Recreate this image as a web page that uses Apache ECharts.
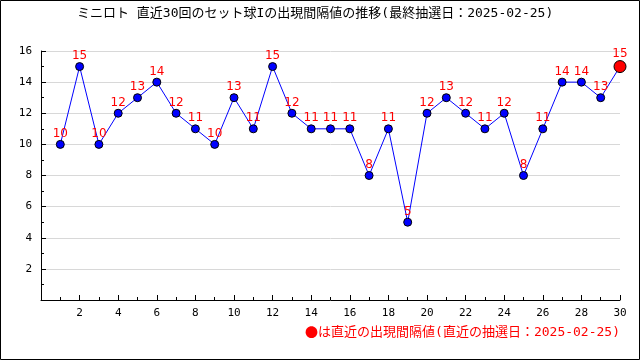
<!DOCTYPE html>
<html><head><meta charset="utf-8">
<script src="https://cdn.jsdelivr.net/npm/echarts@6/dist/echarts.min.js"></script>
<style>html,body{margin:0;padding:0;background:#fff}#c{width:640px;height:360px}</style>
</head><body><div id="c"></div>
<script>
const titleText = 'ミニロト 直近30回のセット球Iの出現間隔値の推移(最終抽選日：2025-02-25)';
const legendMark = '●';
const legendText = 'は直近の出現間隔値(直近の抽選日：2025-02-25)';
const draws = [1,2,3,4,5,6,7,8,9,10,11,12,13,14,15,16,17,18,19,20,21,22,23,24,25,26,27,28,29,30];
const intervals = [10,15,10,12,13,14,12,11,10,13,11,15,12,11,11,11,8,11,5,12,13,12,11,12,8,11,14,14,13,15];

const chart = echarts.init(document.getElementById('c'), null, {renderer:'canvas'});
const mono = 'DejaVu Sans Mono';
const jpMono = '"DejaVu Sans Mono","Noto Sans CJK JP"';
const data = draws.map((d,i)=>{
  const p = {value:[d, intervals[i]]};
  if (i === draws.length-1) {
    p.symbolSize = 12;
    p.itemStyle = {color:'#ff0000', borderColor:'#000', borderWidth:1};
  }
  return p;
});
chart.setOption({
  animation:false,
  title:{text:titleText, left:72, top:2,
    textStyle:{fontFamily:jpMono, fontSize:13, fontWeight:'normal', color:'#000'}},
  grid:{left:41, right:20, top:51, bottom:60},
  xAxis:{type:'value', min:0, max:30, interval:2,
    axisLine:{lineStyle:{color:'#000', width:1}},
    axisTick:{show:true, inside:true, length:5, lineStyle:{color:'#000'}},
    minorTick:{show:true, splitNumber:2, length:3, lineStyle:{color:'#000'}},
    splitLine:{show:false},
    axisLabel:{fontFamily:mono, fontSize:11, color:'#000', margin:8,
      formatter:v=> v===0?'':String(v)}},
  yAxis:{type:'value', min:0, max:16, interval:2,
    axisLine:{show:true, lineStyle:{color:'#000', width:1}},
    axisTick:{show:true, inside:true, length:5, lineStyle:{color:'#000'}},
    minorTick:{show:true, splitNumber:2, length:3, lineStyle:{color:'#000'}},
    splitLine:{show:true, lineStyle:{color:'#d8d8d8', width:1}},
    axisLabel:{fontFamily:mono, fontSize:11, color:'#000', margin:9,
      formatter:v=> v===0?'':String(v)}},
  series:[{type:'line', data:data, symbol:'circle', symbolSize:8,
    lineStyle:{color:'#0000ff', width:1},
    itemStyle:{color:'#0000ff', borderColor:'#000', borderWidth:1},
    label:{show:true, position:'top', distance:0, color:'#ff0000',
      fontFamily:'DejaVu Sans', fontSize:12, formatter:p=>p.value[1]}}],
  graphic:[
    {type:'rect', shape:{x:0.5, y:0.5, width:639, height:359}, style:{fill:null, stroke:'#000', lineWidth:1}, silent:true},
    {type:'text', right:20, top:326, style:{
      text:'{m|' + legendMark + '}{t|' + legendText + '}',
      rich:{
        m:{fill:'#ff0000', font:'13px "Noto Sans CJK JP"', fontFamily:'Noto Sans CJK JP', fontSize:13, color:'#ff0000'},
        t:{fill:'#ff0000', fontFamily:jpMono, fontSize:13, color:'#ff0000'}
      },
      fill:'#ff0000', font:'13px "DejaVu Sans Mono","Noto Sans CJK JP"'}}
  ]
});
</script></body></html>
